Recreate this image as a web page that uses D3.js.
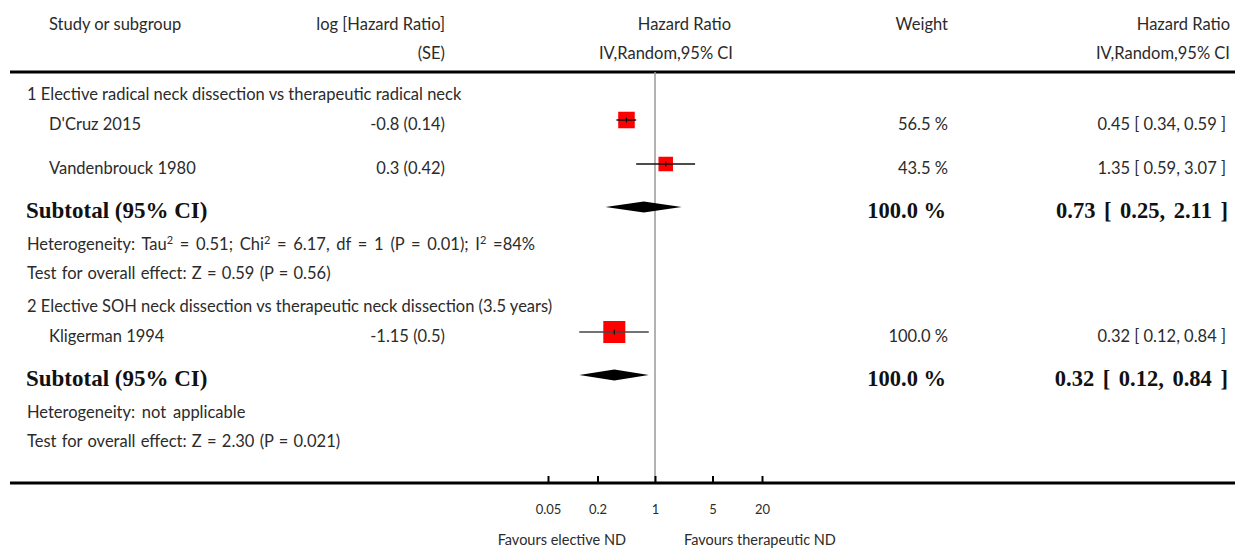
<!DOCTYPE html>
<html>
<head>
<meta charset="utf-8">
<script src="https://cdn.jsdelivr.net/npm/d3@7"></script>
<style>
  html, body { margin: 0; padding: 0; background: #fff; }
  svg { display: block; }
  text { font-family: Lato, "Noto Sans", sans-serif; fill: #2b2b2b; }
  .bold { font-family: "Liberation Serif", "DejaVu Serif", serif; font-weight: bold; fill: #111; }
</style>
</head>
<body>
<svg id="chart"></svg>
<script>
// study rows
const studies = ["D'Cruz 2015", "Vandenbrouck 1980", "Kligerman 1994"];
const studyGroup = [0, 0, 1];
const logHR = ["-0.8", "0.3", "-1.15"];
const logSE = ["0.14", "0.42", "0.5"];
const hr = [0.45, 1.35, 0.32];
const hrLo = [0.34, 0.59, 0.12];
const hrHi = [0.59, 3.07, 0.84];
const weights = [56.5, 43.5, 100.0];

// subgroups
const groups = [
  "1 Elective radical neck dissection vs therapeutic radical neck",
  "2 Elective SOH neck dissection vs therapeutic neck dissection (3.5 years)"
];
const subHR = [0.73, 0.32];
const subLo = [0.25, 0.12];
const subHi = [2.11, 0.84];
const subWeight = [100.0, 100.0];
const heterogeneity = [
  "Heterogeneity: Tau² = 0.51; Chi² = 6.17, df = 1 (P = 0.01); I² =84%",
  "Heterogeneity: not applicable"
];
const overall = [
  "Test for overall effect: Z = 0.59 (P = 0.56)",
  "Test for overall effect: Z = 2.30 (P = 0.021)"
];

const tickValues = [0.05, 0.2, 1, 5, 20];
const favours = ["Favours elective ND", "Favours therapeutic ND"];

const width = 1235, height = 548;
const svg = d3.select("#chart").attr("width", width).attr("height", height);

const x = d3.scaleLog().domain([0.05, 20]).range([548, 762]);
const box = d3.scaleSqrt().domain([0, 100]).range([0, 22]);
const f2 = d3.format(".2f"), f1 = d3.format(".1f");
const ci = (m, l, h) => `${f2(m)} [ ${f2(l)}, ${f2(h)} ]`;

const headerY = 72, axisY = 483;

// build the row list
const rows = [];
groups.forEach((g, gi) => {
  rows.push({type: "title", text: g});
  studies.forEach((s, i) => { if (studyGroup[i] === gi) rows.push({type: "study", i}); });
  rows.push({type: "subtotal", gi});
  rows.push({type: "het", text: heterogeneity[gi]});
  rows.push({type: "test", text: overall[gi]});
});
let y = 67, prev = null;
rows.forEach(r => {
  const step = {title: 33, study: prev === "title" ? 30 : 44, subtotal: 44, het: 32, test: 29}[r.type];
  y += step;
  r.y = y;
  prev = r.type;
});

// text with real raised "2"s
function supText(sel, str) {
  const parts = str.split("²");
  parts.forEach((p, k) => {
    sel.append("tspan").attr("dy", k ? 6 : null).text(p);
    if (k < parts.length - 1) {
      sel.append("tspan").attr("dy", -6).style("font-size", "11px").text("2");
    }
  });
}

// header
const head = svg.append("g").style("font-size", "16.5px");
head.append("text").attr("x", 49).attr("y", 30).text("Study or subgroup");
head.append("text").attr("x", 445).attr("y", 30).attr("text-anchor", "end").text("log [Hazard Ratio]");
head.append("text").attr("x", 445).attr("y", 59).attr("text-anchor", "end").text("(SE)");
head.append("text").attr("x", 731).attr("y", 30).attr("text-anchor", "end").text("Hazard Ratio");
head.append("text").attr("x", 733).attr("y", 59).attr("text-anchor", "end").text("IV,Random,95% CI");
head.append("text").attr("x", 948).attr("y", 30).attr("text-anchor", "end").text("Weight");
head.append("text").attr("x", 1230).attr("y", 30).attr("text-anchor", "end").text("Hazard Ratio");
head.append("text").attr("x", 1230).attr("y", 59).attr("text-anchor", "end").text("IV,Random,95% CI");

svg.append("line").attr("x1", 10).attr("x2", width).attr("y1", headerY).attr("y2", headerY)
  .attr("stroke", "#000").attr("stroke-width", 3);

// line of no effect
svg.append("line").attr("x1", x(1)).attr("x2", x(1)).attr("y1", headerY).attr("y2", axisY)
  .attr("stroke", "#999").attr("stroke-width", 1.5);

const body = svg.append("g").style("font-size", "16.5px");

rows.forEach(r => {
  if (r.type === "title" || r.type === "het" || r.type === "test") {
    const t = body.append("text").attr("x", 27).attr("y", r.y)
      .style("word-spacing", r.type === "het" ? "2.5px" : r.type === "test" ? "1px" : null);
    supText(t, r.text);
  } else if (r.type === "study") {
    const i = r.i, cy = r.y - 10, s = box(weights[i]);
    body.append("text").attr("x", 49).attr("y", r.y).text(studies[i]);
    body.append("text").attr("x", 445).attr("y", r.y).attr("text-anchor", "end").text(`${logHR[i]} (${logSE[i]})`);
    body.append("text").attr("x", 948).attr("y", r.y).attr("text-anchor", "end").text(`${f1(weights[i])} %`);
    body.append("text").attr("x", 1226).attr("y", r.y).attr("text-anchor", "end").text(ci(hr[i], hrLo[i], hrHi[i]));
    body.append("rect").attr("x", x(hr[i]) - s / 2).attr("y", cy - s / 2).attr("width", s).attr("height", s)
      .attr("fill", "#ff0000");
    body.append("line").attr("x1", x(hrLo[i])).attr("x2", x(hrHi[i])).attr("y1", cy).attr("y2", cy)
      .attr("stroke", i === 2 ? "#444" : "#111").attr("stroke-width", 1.5);
    body.append("line").attr("x1", x(hr[i])).attr("x2", x(hr[i])).attr("y1", cy - 2.5).attr("y2", cy + 2.5)
      .attr("stroke", "#111").attr("stroke-width", 1.2);
  } else if (r.type === "subtotal") {
    const gi = r.gi, cy = r.y - 11;
    body.append("text").attr("class", "bold").attr("x", 26).attr("y", r.y).style("font-size", "23px").text("Subtotal (95% CI)");
    body.append("text").attr("class", "bold").attr("x", 946).attr("y", r.y).attr("text-anchor", "end")
      .style("font-size", "22.5px").text(`${f1(subWeight[gi])} %`);
    body.append("text").attr("class", "bold").attr("x", 1228).attr("y", r.y).attr("text-anchor", "end")
      .style("font-size", "22.5px").style("word-spacing", "3px").text(ci(subHR[gi], subLo[gi], subHi[gi]));
    const pts = [[x(subLo[gi]), cy], [x(subHR[gi]), cy - 5.5], [x(subHi[gi]), cy], [x(subHR[gi]), cy + 5.5]];
    body.append("path").attr("d", d3.line()(pts) + "Z").attr("fill", "#000");
  }
});

// axis
svg.append("line").attr("x1", 10).attr("x2", width).attr("y1", axisY).attr("y2", axisY)
  .attr("stroke", "#000").attr("stroke-width", 3);
const axis = svg.append("g").attr("transform", `translate(0,${axisY})`)
  .call(d3.axisBottom(x).tickValues(tickValues).tickSize(-7).tickPadding(22).tickFormat(d => d));
axis.select(".domain").remove();
axis.selectAll(".tick line").attr("stroke", "#000").attr("stroke-width", 2);
axis.selectAll(".tick text").style("font-family", "Lato, 'Noto Sans', sans-serif").style("font-size", "13px").attr("fill", "#2b2b2b");

svg.append("text").attr("x", x(1) - 29).attr("y", 545).attr("text-anchor", "end").style("font-size", "14.5px").text(favours[0]);
svg.append("text").attr("x", x(1) + 29).attr("y", 545).style("font-size", "14.5px").text(favours[1]);
</script>
</body>
</html>
